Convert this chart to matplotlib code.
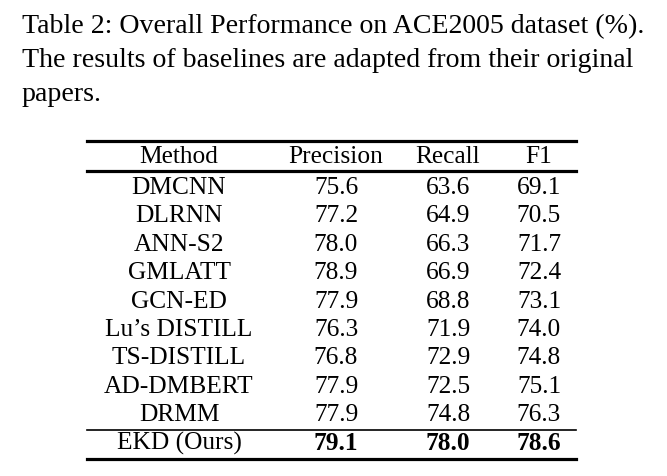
import matplotlib
matplotlib.use("Agg")
import matplotlib.pyplot as plt
from matplotlib.lines import Line2D

W, H = 667, 477

caption = ["Table 2: Overall Performance on ACE2005 dataset (%).",
           "The results of baselines are adapted from their original",
           "papers."]

headers = ["Method", "Precision", "Recall", "F1"]
methods = ["DMCNN", "DLRNN", "ANN-S2", "GMLATT", "GCN-ED", "Lu\u2019s DISTILL",
           "TS-DISTILL", "AD-DMBERT", "DRMM", "EKD (Ours)"]
precision = [75.6, 77.2, 78.0, 78.9, 77.9, 76.3, 76.8, 77.9, 77.9, 79.1]
recall = [63.6, 64.9, 66.3, 66.9, 68.8, 71.9, 72.9, 72.5, 74.8, 78.0]
f1 = [69.1, 70.5, 71.7, 72.4, 73.1, 74.0, 74.8, 75.1, 76.3, 78.6]

fig = plt.figure(figsize=(W / 100, H / 100), dpi=100)
plt.rcParams['font.family'] = ['Liberation Serif', 'DejaVu Serif']


def px(x, y):
    return x / W, 1 - y / H


def text(x, y, s, size, **kw):
    fx, fy = px(x, y)
    fig.text(fx, fy, s, fontsize=size, va='baseline', **kw)


def rule(y, lw):
    x0, fy = px(87, y)
    x1, _ = px(576, y)
    fig.add_artist(Line2D([x0, x1], [fy, fy], color='black', lw=lw,
                          transform=fig.transFigure))


# caption
for i, line in enumerate(caption):
    text(22, 33 + i * 34, line, 20.1, ha='left')

# table
fs = 18.3
col_x = [179, 336, 448, 539]
rule(142, 2.3)
for cx, h in zip(col_x, headers):
    text(cx, 163, h, fs, ha='center')
rule(172, 2.3)

row_y = 194
for i, m in enumerate(methods):
    last = i == len(methods) - 1
    y = row_y + i * 28.4
    if last:
        rule(431, 1.2)
        y = 450
    w = 'bold' if last else 'normal'
    text(col_x[0], y, m, fs, ha='center')
    text(col_x[1], y, f"{precision[i]:.1f}", fs, ha='center', fontweight=w)
    text(col_x[2], y, f"{recall[i]:.1f}", fs, ha='center', fontweight=w)
    text(col_x[3], y, f"{f1[i]:.1f}", fs, ha='center', fontweight=w)
rule(460, 2.3)

fig.savefig("out.png", dpi=100)
